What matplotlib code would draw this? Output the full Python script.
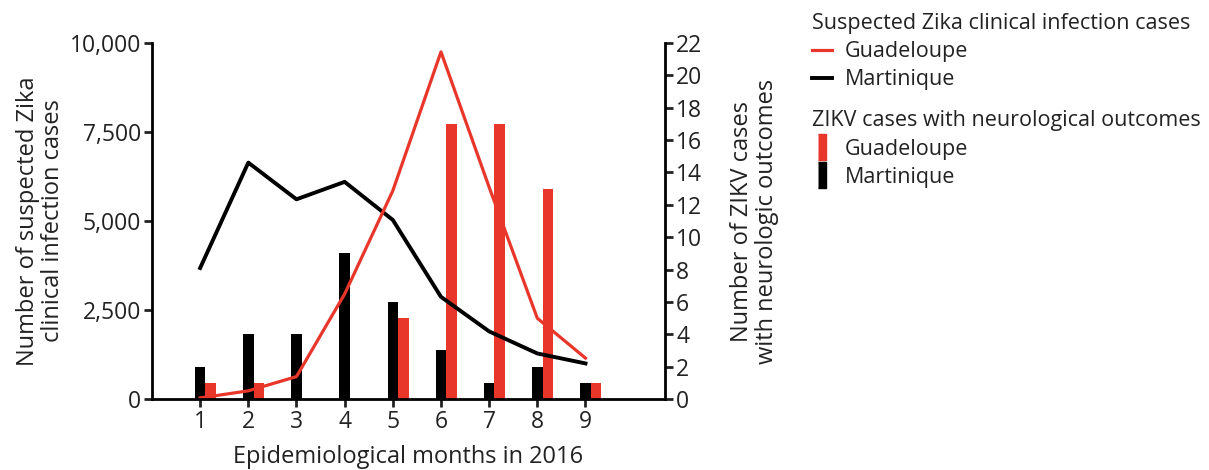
import matplotlib
matplotlib.use("Agg")
import matplotlib.pyplot as plt
from matplotlib.lines import Line2D
import numpy as np

plt.rcParams['font.family'] = ['Open Sans', 'DejaVu Sans']

months = [1, 2, 3, 4, 5, 6, 7, 8, 9]
guadeloupe_cases = [30, 230, 630, 2950, 5850, 9750, 5950, 2270, 1150]
martinique_cases = [3680, 6640, 5610, 6100, 5030, 2870, 1900, 1280, 1000]
guadeloupe_neuro = [1, 1, 0, 0, 5, 17, 17, 13, 1]
martinique_neuro = [2, 4, 4, 9, 6, 3, 1, 2, 1]

left_ticks = [0, 2500, 5000, 7500, 10000]
left_ticklabels = ["0", "2,500", "5,000", "7,500", "10,000"]
right_ticks = list(range(0, 23, 2))

RED = "#e8372a"
BLACK = "#000000"
TXT = "#222222"

fig = plt.figure(figsize=(12.09, 4.70), dpi=100)
ax = fig.add_axes([0.1257, 0.151, 0.4243, 0.7575])
ax2 = ax.twinx()

x = np.array(months)
w = 0.22
ax2.bar(x, martinique_neuro, width=w, color=BLACK, zorder=2)
ax2.bar(x + w, guadeloupe_neuro, width=w, color=RED, zorder=2)

ax.set_zorder(ax2.get_zorder() + 1)
ax.patch.set_visible(False)
ax.plot(x, martinique_cases, color=BLACK, lw=2.8)
ax.plot(x, guadeloupe_cases, color=RED, lw=2.3)

ax.set_xlim(0, 10.65)
ax.set_ylim(0, 10000)
ax2.set_ylim(0, 22)

ax.set_xticks(months)
ax.set_yticks(left_ticks)
ax.set_yticklabels(left_ticklabels)
ax2.set_yticks(right_ticks)

for a in (ax, ax2):
    a.spines['top'].set_visible(False)
    for s in a.spines.values():
        s.set_linewidth(2)
    a.tick_params(width=2, length=6, labelsize=16.5, pad=2, colors=TXT, labelcolor=TXT)
ax.spines['right'].set_visible(False)
ax2.spines['left'].set_visible(False)
ax2.spines['bottom'].set_visible(False)

ax.set_xlabel("Epidemiological months in 2016", fontsize=17, color=TXT, labelpad=8)
ax.set_ylabel("Number of suspected Zika\nclinical infection cases", fontsize=17,
              color=TXT, labelpad=3, linespacing=1.05)
ax2.set_ylabel("Number of ZIKV cases\nwith neurologic outcomes", fontsize=17,
               color=TXT, labelpad=20, linespacing=1.05)

bar_marker = [(-0.3, -1), (0.3, -1), (0.3, 1), (-0.3, 1)]
h1 = [Line2D([], [], color=RED, lw=2.3), Line2D([], [], color=BLACK, lw=2.8)]
h2 = [Line2D([], [], ls='none', marker=bar_marker, markersize=19, color=RED, mec=RED),
      Line2D([], [], ls='none', marker=bar_marker, markersize=19, color=BLACK, mec=BLACK)]

common = dict(loc='upper left', frameon=False, fontsize=15.5, title_fontsize=15.5,
              alignment='left', handlelength=0.9, handletextpad=0.6, labelspacing=0.33,
              borderaxespad=0, borderpad=0)
leg1 = fig.legend(h1, ["Guadeloupe", "Martinique"], title="Suspected Zika clinical infection cases",
                  bbox_to_anchor=(0.672, 0.972), **common)
leg2 = fig.legend(h2, ["Guadeloupe", "Martinique"], title="ZIKV cases with neurological outcomes",
                  bbox_to_anchor=(0.672, 0.765), **common)
for leg in (leg1, leg2):
    for t in leg.get_texts():
        t.set_color(TXT)
    leg.get_title().set_color(TXT)

fig.savefig("out.png", dpi=100)
